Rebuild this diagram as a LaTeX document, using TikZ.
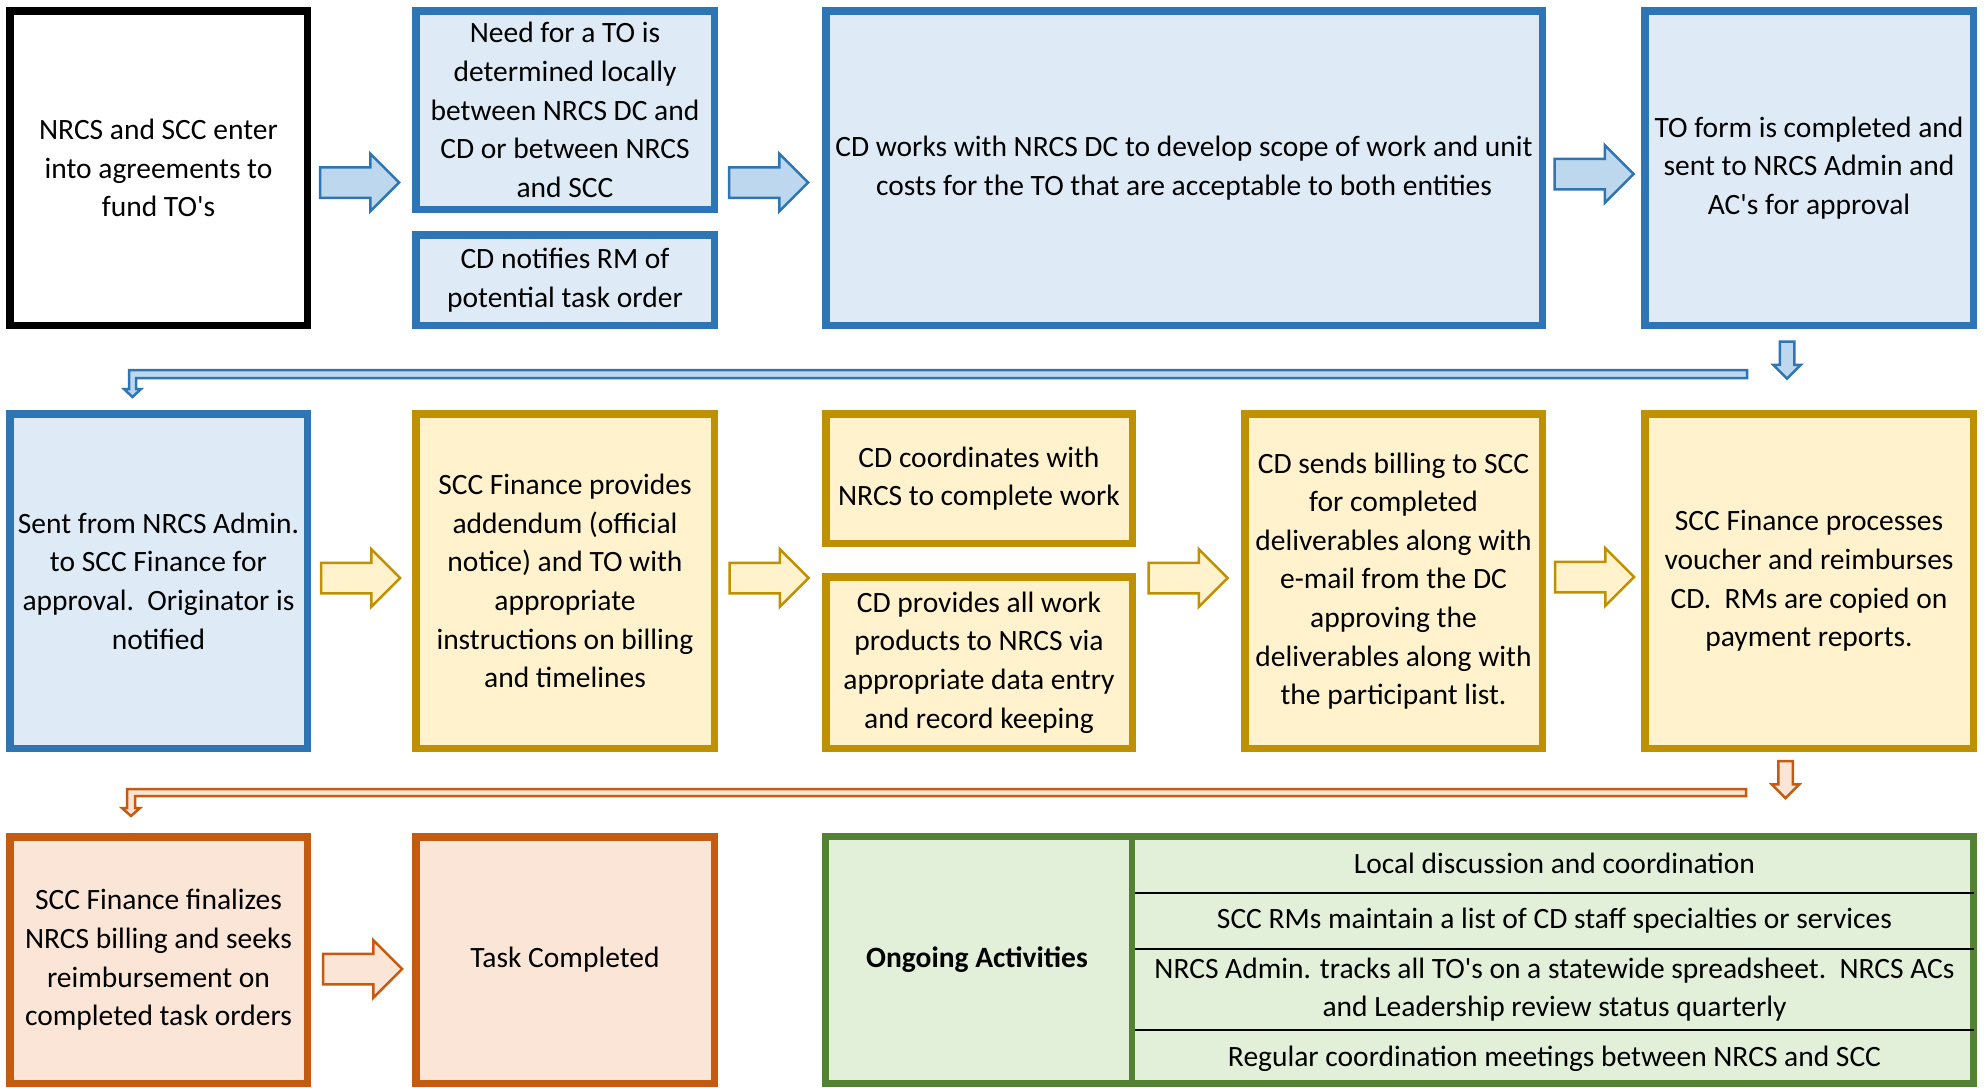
\documentclass[tikz,border=0pt]{standalone}
\usepackage{fontspec}
\setmainfont{Carlito}
\usetikzlibrary{positioning,shapes.arrows,calc}
\definecolor{bluebd}{HTML}{2E75B6}
\definecolor{bluefill}{HTML}{DEEBF7}
\definecolor{bluearr}{HTML}{BDD7EE}
\definecolor{goldbd}{HTML}{BF9000}
\definecolor{goldfill}{HTML}{FFF2CC}
\definecolor{orangebd}{HTML}{C55A11}
\definecolor{orangefill}{HTML}{FBE5D6}
\definecolor{greenbd}{HTML}{548235}
\definecolor{greenfill}{HTML}{E2F0D9}

\begin{document}
\begin{tikzpicture}[x=1pt, y=-1pt, font=\fontsize{29.5}{38.6}\selectfont,
    main/.style = {draw, rectangle, line width=7.5pt, align=center, inner sep=0pt},
    nrcs/.style = {main, draw=bluebd, fill=bluefill},
    scc/.style = {main, draw=goldbd, fill=goldfill},
    fin/.style = {main, draw=orangebd, fill=orangefill},
    barrow/.style = {single arrow, line width=2.5pt, inner xsep=0pt, inner ysep=14pt, minimum height=79pt,
                     single arrow head extend=13.5pt, single arrow tip angle=90},
    darrow/.style = {single arrow, line width=2.5pt, inner xsep=6pt, inner ysep=0pt, minimum height=37pt,
                     single arrow head extend=6.5pt, single arrow tip angle=90, shape border rotate=270}]
    \useasboundingbox (0,0) rectangle (1986,1087);

    % row 1
    \node[main, fill=white] (1) at (158.5,168) [minimum width=297.5pt, minimum height=314.5pt]
        {NRCS and SCC enter\\into agreements to\\fund TO\textquotesingle s};
    \node[nrcs] (2) at (565,110) [minimum width=298.5pt, minimum height=198.5pt]
        {Need for a TO is\\determined locally\\between NRCS DC and\\CD or between NRCS\\and SCC};
    \node[nrcs] (3) at (565,280) [minimum width=298.5pt, minimum height=90.5pt]
        {CD notifies RM of\\potential task order};
    \node[nrcs] (4) at (1184,168) [minimum width=716.5pt, minimum height=314.5pt]
        {CD works with NRCS DC to develop scope of work and unit\\costs for the TO that are acceptable to both entities};
    \node[nrcs] (5) at (1809,168) [minimum width=328.5pt, minimum height=314.5pt]
        {TO form is completed and\\sent to NRCS Admin and\\AC\textquotesingle s for approval};

    % row 2
    \node[nrcs] (6) at (158.5,581) [minimum width=297.5pt, minimum height=334.5pt]
        {Sent from NRCS Admin.\\to SCC Finance for\\approval.\ \ Originator is\\notified};
    \node[scc] (7) at (565,581) [minimum width=298.5pt, minimum height=334.5pt]
        {SCC Finance provides\\addendum (official\\notice) and TO with\\appropriate\\instructions on billing\\and timelines};
    \node[scc] (8) at (979,478.5) [minimum width=306.5pt, minimum height=129.5pt]
        {CD coordinates with\\NRCS to complete work};
    \node[scc] (9) at (979,662.5) [minimum width=306.5pt, minimum height=171.5pt]
        {CD provides all work\\products to NRCS via\\appropriate data entry\\and record keeping};
    \node[scc] (10) at (1393.5,581) [minimum width=297.5pt, minimum height=334.5pt]
        {CD sends billing to SCC\\for completed\\deliverables along with\\e-mail from the DC\\approving the\\deliverables along with\\the participant list.};
    \node[scc] (11) at (1809,581) [minimum width=328.5pt, minimum height=334.5pt]
        {SCC Finance processes\\voucher and reimburses\\CD.\ \ RMs are copied on\\payment reports.};

    % row 3
    \node[fin] (12) at (158.5,960) [minimum width=297.5pt, minimum height=246.5pt]
        {SCC Finance finalizes\\NRCS billing and seeks\\reimbursement on\\completed task orders};
    \node[fin] (13) at (565,960) [minimum width=298.5pt, minimum height=246.5pt] {Task Completed};
    \node[main, draw=greenbd, fill=greenfill, line width=7pt] (14) at (1399.5,960)
        [minimum width=1148pt, minimum height=247pt] {};
    \draw[greenbd, line width=6pt] (1132,836.5) -- (1132,1083.5);
    \draw[black, line width=1.2pt] (1135,893) -- (1973.5,893);
    \draw[black, line width=1.2pt] (1135,949) -- (1973.5,949);
    \draw[black, line width=1.2pt] (1135,1030) -- (1973.5,1030);
    \node[align=center] (15) at (977,960) {\bfseries Ongoing Activities};
    \node[align=center] (16) at (1554.5,863) {Local discussion and coordination};
    \node[align=center] (17) at (1554.5,921) {SCC RMs maintain a list of CD staff specialties or services};
    \node[align=center] (18) at (1554.5,989.5) {NRCS Admin. tracks all TO\textquotesingle s on a statewide spreadsheet.\ \ NRCS ACs\\and Leadership review status quarterly};
    \node[align=center] (19) at (1554.5,1058.5) {Regular coordination meetings between NRCS and SCC};

    % block arrows
    \node[barrow, draw=bluebd, fill=bluearr] (a1) at (352,182.5) {};
    \node[barrow, draw=bluebd, fill=bluearr] (a2) at (761,182.5) {};
    \node[barrow, draw=bluebd, fill=bluearr] (a3) at (1586.5,174) {};
    \node[barrow, draw=goldbd, fill=goldfill] (a4) at (353,578) {};
    \node[barrow, draw=goldbd, fill=goldfill] (a5) at (761.5,578) {};
    \node[barrow, draw=goldbd, fill=goldfill] (a6) at (1180.5,578) {};
    \node[barrow, draw=goldbd, fill=goldfill] (a7) at (1587,577) {};
    \node[barrow, draw=orangebd, fill=orangefill] (a8) at (355,969) {};

    % turns between rows
    \node[darrow, draw=bluebd, fill=bluearr] (d1) at (1787,356.5) {};
    \draw[bluebd, fill=bluearr, line width=2.5pt] (1747,370) -- (129,370) -- (129,389) -- (124,389)
        -- (132.5,397) -- (141,389) -- (136,389) -- (136,378) -- (1747,378) -- cycle;
    \node[darrow, draw=orangebd, fill=orangefill] (d2) at (1785.5,776) {};
    \draw[orangebd, fill=orangefill, line width=2.5pt] (1746,789) -- (127,789) -- (127,808) -- (122,808)
        -- (131,816) -- (140,808) -- (135,808) -- (135,796) -- (1746,796) -- cycle;
\end{tikzpicture}
\end{document}
